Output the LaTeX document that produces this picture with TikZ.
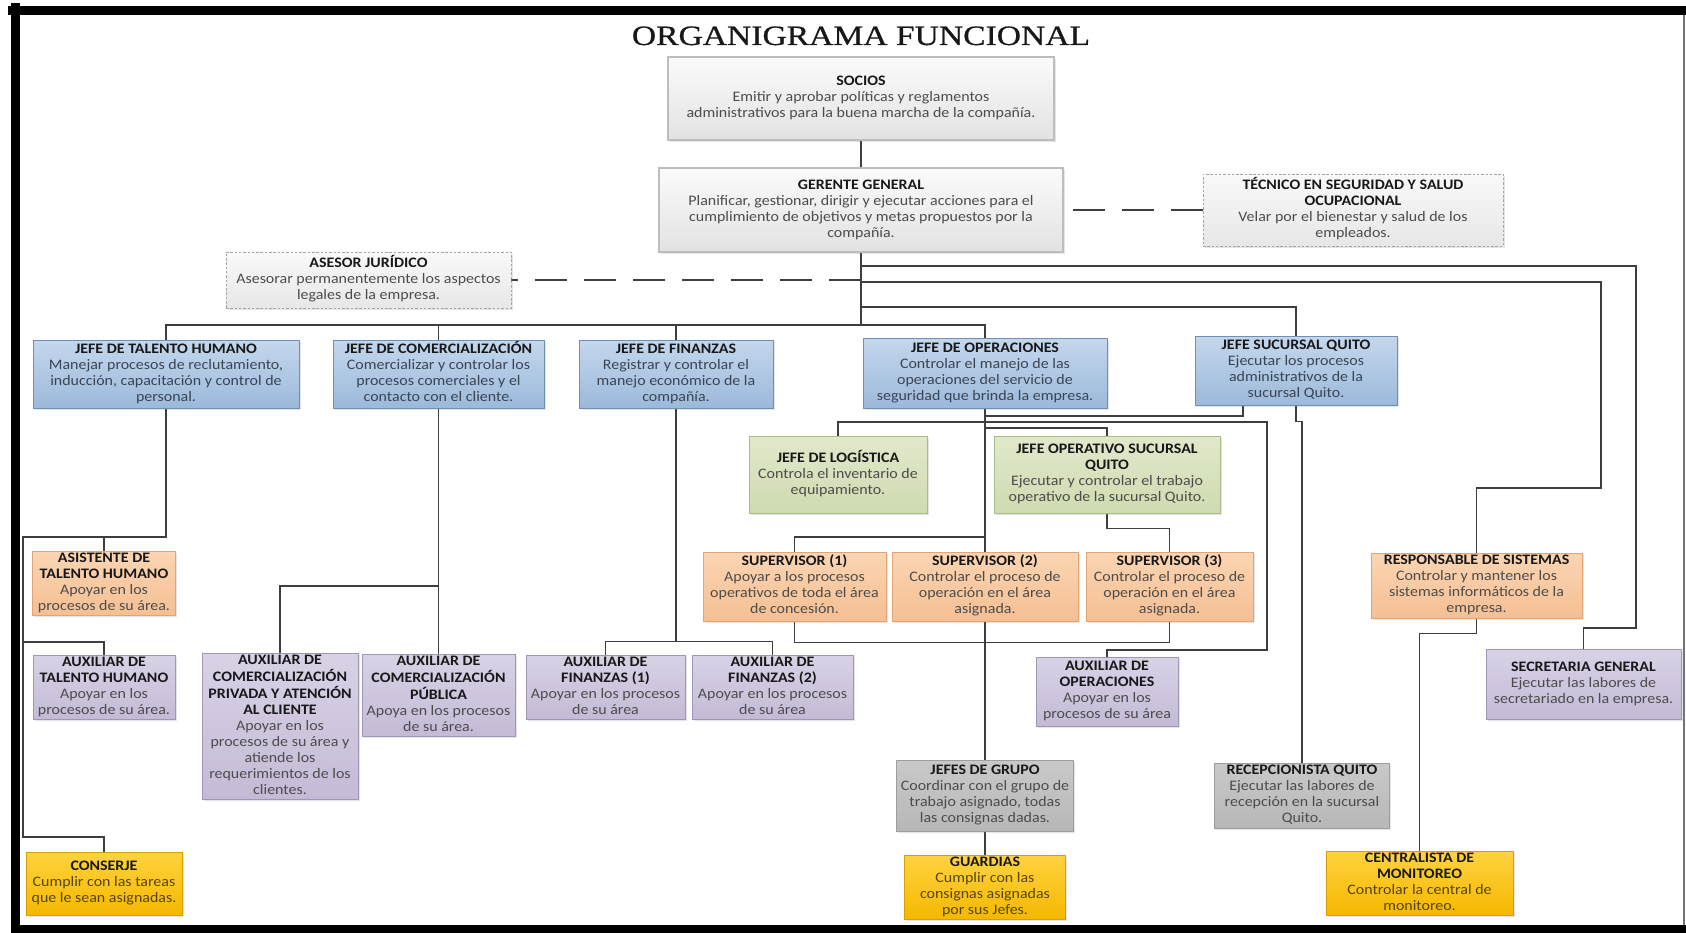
\documentclass[tikz,border=0pt]{standalone}
\usepackage{fontspec}
\setmainfont{Carlito}
\newfontfamily\titleserif[FakeBold=0.6]{Liberation Serif}
\usepackage{graphicx}
\usetikzlibrary{backgrounds,shadows}

% line and text colours
\definecolor{connclr}{HTML}{3E3E3E}
\definecolor{headcol}{HTML}{181818}
\definecolor{desc}{HTML}{4C4C4C}
\definecolor{descblue}{HTML}{3A4554}
\definecolor{descyellow}{HTML}{584500}
% box fills and borders
\definecolor{maintop}{HTML}{FBFBFB}
\definecolor{mainbot}{HTML}{E2E2E2}
\definecolor{mainline}{HTML}{BDBDBD}
\definecolor{stafftop}{HTML}{F9F9F9}
\definecolor{staffbot}{HTML}{E7E7E7}
\definecolor{staffline}{HTML}{A5A5A5}
\definecolor{bluetop}{HTML}{C4D7ED}
\definecolor{bluebot}{HTML}{9CB9DA}
\definecolor{blueline}{HTML}{6F8FB5}
\definecolor{greentop}{HTML}{E0E9CB}
\definecolor{greenbot}{HTML}{CFDBB1}
\definecolor{greenline}{HTML}{AABB8A}
\definecolor{orangetop}{HTML}{FBD5B3}
\definecolor{orangebot}{HTML}{F5BF93}
\definecolor{orangeline}{HTML}{E0A577}
\definecolor{purpletop}{HTML}{D9D2E6}
\definecolor{purplebot}{HTML}{C4BAD6}
\definecolor{purpleline}{HTML}{A096BA}
\definecolor{greytop}{HTML}{C9C9C9}
\definecolor{greybot}{HTML}{B7B7B7}
\definecolor{greyline}{HTML}{9E9E9E}
\definecolor{goldtop}{HTML}{FFD23F}
\definecolor{goldbot}{HTML}{F4B800}
\definecolor{goldline}{HTML}{D6A000}

% centred, slightly widened text block for each box
\newcommand{\orgtext}[1]{\scalebox{1.1}[1]{\begin{tabular}{@{}c@{}}#1\end{tabular}}}
\newcommand{\orghead}[1]{\textcolor{headcol}{\bfseries #1}}

\tikzset{
  orgbox/.style={draw, line width=0.9pt, inner sep=0pt, text=desc,
    font=\fontsize{14.5}{16}\selectfont,
    drop shadow={shadow xshift=1.6pt, shadow yshift=-1.6pt, opacity=0.2}},
  boxsize/.style 2 args={minimum width=#1pt, minimum height=#2pt},
  mainbox/.style={orgbox, draw=mainline, line width=1.8pt, top color=maintop, bottom color=mainbot},
  staffbox/.style={orgbox, draw=staffline, line width=0.8pt, dash pattern=on 2.5pt off 1.8pt, top color=stafftop, bottom color=staffbot},
  bluebox/.style={orgbox, draw=blueline, top color=bluetop, bottom color=bluebot, text=descblue},
  greenbox/.style={orgbox, draw=greenline, top color=greentop, bottom color=greenbot},
  orangebox/.style={orgbox, draw=orangeline, top color=orangetop, bottom color=orangebot},
  purplebox/.style={orgbox, draw=purpleline, top color=purpletop, bottom color=purplebot},
  greybox/.style={orgbox, draw=greyline, top color=greytop, bottom color=greybot},
  goldbox/.style={orgbox, draw=goldline, top color=goldtop, bottom color=goldbot, text=descyellow},
  orglink/.style={draw=connclr, line width=1.7pt},
  dashlink/.style={draw=connclr, line width=1.6pt, dash pattern=on 32pt off 17pt}
}

\begin{document}
\begin{tikzpicture}[x=1pt,y=-1pt]

\useasboundingbox (0,0) rectangle (1686,933);
\begin{scope}[on background layer]
  \fill[white] (0,0) rectangle (1686,933);
\end{scope}

% page frame
\fill[black] (10.5,3) rectangle (20,933);
\fill[black] (7.5,6.5) rectangle (1686,15);
\fill[black] (10.5,925) rectangle (1686,933);
\draw[black!55, line width=1.2pt] (1684,15) -- (1684,925);

% title
\node[anchor=base, text=headcol] (title) at (861,45)
  {\scalebox{1.2}[1]{\titleserif\fontsize{28}{30}\selectfont ORGANIGRAMA FUNCIONAL}};

% top management and staff
\node[mainbox, boxsize={386}{83}] (socios) at (861,98.5) {\orgtext{\orghead{SOCIOS}\\Emitir y aprobar políticas y reglamentos\\administrativos para la buena marcha de la compañía.}};
\node[mainbox, boxsize={404}{84}] (gerente) at (861,210) {\orgtext{\orghead{GERENTE GENERAL}\\Planificar, gestionar, dirigir y ejecutar acciones para el\\cumplimiento de objetivos y metas propuestos por la\\compañía.}};
\node[staffbox, boxsize={300}{72}] (tecnico) at (1353,210) {\orgtext{\orghead{TÉCNICO EN SEGURIDAD Y SALUD}\\\orghead{OCUPACIONAL}\\Velar por el bienestar y salud de los\\empleados.}};
\node[staffbox, boxsize={285}{56}] (asesor) at (368.5,280) {\orgtext{\orghead{ASESOR JURÍDICO}\\Asesorar permanentemente los aspectos\\legales de la empresa.}};

% department heads
\node[bluebox, boxsize={266}{68}] (talento) at (166,374) {\orgtext{\orghead{JEFE DE TALENTO HUMANO}\\Manejar procesos de reclutamiento,\\inducción, capacitación y control de\\personal.}};
\node[bluebox, boxsize={211}{68}] (comercial) at (438.5,374) {\orgtext{\orghead{JEFE DE COMERCIALIZACIÓN}\\Comercializar y controlar los\\procesos comerciales y el\\contacto con el cliente.}};
\node[bluebox, boxsize={194}{68}] (finanzas) at (676,374) {\orgtext{\orghead{JEFE DE FINANZAS}\\Registrar y controlar el\\manejo económico de la\\compañía.}};
\node[bluebox, boxsize={244}{70}] (operaciones) at (985,373) {\orgtext{\orghead{JEFE DE OPERACIONES}\\Controlar el manejo de las\\operaciones del servicio de\\seguridad que brinda la empresa.}};
\node[bluebox, boxsize={202}{69}] (sucursal) at (1296,370.5) {\orgtext{\orghead{JEFE SUCURSAL QUITO}\\Ejecutar los procesos\\administrativos de la\\sucursal Quito.}};

% operations
\node[greenbox, boxsize={178}{77}] (logistica) at (838,474.5) {\orgtext{\orghead{JEFE DE LOGÍSTICA}\\Controla el inventario de\\equipamiento.}};
\node[greenbox, boxsize={226}{77}] (operativo) at (1107,474.5) {\orgtext{\orghead{JEFE OPERATIVO SUCURSAL}\\\orghead{QUITO}\\Ejecutar y controlar el trabajo\\operativo de la sucursal Quito.}};
\node[orangebox, boxsize={183}{69}] (sup1) at (794.5,586.5) {\orgtext{\orghead{SUPERVISOR (1)}\\Apoyar a los procesos\\operativos de toda el área\\de concesión.}};
\node[orangebox, boxsize={186}{69}] (sup2) at (985,586.5) {\orgtext{\orghead{SUPERVISOR (2)}\\Controlar el proceso de\\operación en el área\\asignada.}};
\node[orangebox, boxsize={167}{69}] (sup3) at (1169.5,586.5) {\orgtext{\orghead{SUPERVISOR (3)}\\Controlar el proceso de\\operación en el área\\asignada.}};
\node[purplebox, boxsize={142}{69}] (auxop) at (1107,691.5) {\orgtext{\orghead{AUXILIAR DE}\\\orghead{OPERACIONES}\\Apoyar en los\\procesos de su área}};
\node[greybox, boxsize={177}{71}] (grupo) at (985,795.5) {\orgtext{\orghead{JEFES DE GRUPO}\\Coordinar con el grupo de\\trabajo asignado, todas\\las consignas dadas.}};
\node[goldbox, boxsize={161}{61}] (guardias) at (985,887.5) {\orgtext{\orghead{GUARDIAS}\\Cumplir con las\\consignas asignadas\\por sus Jefes.}};
\node[greybox, boxsize={175}{65}] (recep) at (1302,795.5) {\orgtext{\orghead{RECEPCIONISTA QUITO}\\Ejecutar las labores de\\recepción en la sucursal\\Quito.}};

% human resources
\node[orangebox, boxsize={143}{63}] (asistente) at (104,583.5) {\orgtext{\orghead{ASISTENTE DE}\\\orghead{TALENTO HUMANO}\\Apoyar en los\\procesos de su área.}};
\node[purplebox, boxsize={142}{64}] (auxtal) at (104,687) {\orgtext{\orghead{AUXILIAR DE}\\\orghead{TALENTO HUMANO}\\Apoyar en los\\procesos de su área.}};
\node[goldbox, boxsize={156}{63}] (conserje) at (104,883.5) {\orgtext{\orghead{CONSERJE}\\Cumplir con las tareas\\que le sean asignadas.}};

% sales and finance
\node[purplebox, boxsize={156}{142}] (auxpriv) at (280,726) {\orgtext{\orghead{AUXILIAR DE}\\\orghead{COMERCIALIZACIÓN}\\\orghead{PRIVADA Y ATENCIÓN}\\\orghead{AL CLIENTE}\\Apoyar en los\\procesos de su área y\\atiende los\\requerimientos de los\\clientes.}};
\node[purplebox, boxsize={153}{81}] (auxpub) at (438.5,695.5) {\orgtext{\orghead{AUXILIAR DE}\\\orghead{COMERCIALIZACIÓN}\\\orghead{PÚBLICA}\\Apoya en los procesos\\de su área.}};
\node[purplebox, boxsize={159}{64}] (auxfinA) at (605.5,687) {\orgtext{\orghead{AUXILIAR DE}\\\orghead{FINANZAS (1)}\\Apoyar en los procesos\\de su área}};
\node[purplebox, boxsize={161}{64}] (auxfinB) at (772.5,687) {\orgtext{\orghead{AUXILIAR DE}\\\orghead{FINANZAS (2)}\\Apoyar en los procesos\\de su área}};

% support staff on the right
\node[orangebox, boxsize={211}{65}] (responsable) at (1476.5,585.5) {\orgtext{\orghead{RESPONSABLE DE SISTEMAS}\\Controlar y mantener los\\sistemas informáticos de la\\empresa.}};
\node[goldbox, boxsize={187}{63}] (centralista) at (1419.5,883.5) {\orgtext{\orghead{CENTRALISTA DE}\\\orghead{MONITOREO}\\Controlar la central de\\monitoreo.}};
\node[purplebox, boxsize={195}{70}] (secretaria) at (1583.5,684) {\orgtext{\orghead{SECRETARIA GENERAL}\\Ejecutar las labores de\\secretariado en la empresa.}};

% connectors
\begin{scope}[on background layer]
  \coordinate (jmain) at (861,325);
  \coordinate (tapsec) at (861,266);
  \coordinate (tapres) at (861,282);
  \coordinate (tapsuc) at (861,307);
  \coordinate (jtal) at (166,537);
  \coordinate (jcom) at (438.5,586);
  \coordinate (jfin) at (676,642);

  \draw[orglink] (socios.south) -- (gerente.north);
  \draw[orglink] (gerente.south) -- (jmain);
  \draw[orglink] (talento.north) |- (jmain) -| (operaciones.north);
  \draw[orglink] (comercial.north) -- (comercial.north |- jmain);
  \draw[orglink] (finanzas.north) -- (finanzas.north |- jmain);

  \draw[orglink] (tapsec) -- (1636,266) -- (1636,628) -| (secretaria.north);
  \draw[orglink] (tapres) -- (1601,282) -- (1601,488) -| (responsable.north);
  \draw[orglink] (tapsuc) -| (sucursal.north);
  \draw[orglink] (responsable.south) -- ++(0,15) -| (centralista.north);

  \draw[dashlink] (asesor.east -| gerente.south) -- (asesor.east);
  \draw[dashlink] (tecnico.west) -- (gerente.east);

  % human resources branch
  \draw[orglink] (talento.south) -- (jtal) -- (23,537) -- (23,837) -| (conserje.north);
  \draw[orglink] (asistente.north) -- (asistente.north |- jtal);
  \draw[orglink] (23,642) -| (auxtal.north);

  % sales branch
  \draw[orglink] (comercial.south) -- (auxpub.north);
  \draw[orglink] (jcom) -| (auxpriv.north);

  % finance branch
  \draw[orglink] (finanzas.south) -- (jfin);
  \draw[orglink] (auxfinA.north) -- ++(0,-13) -| (auxfinB.north);

  % operations branch
  \draw[orglink] (operaciones.south) -- (grupo.north);
  \draw[orglink] (grupo.south) -- (guardias.north);
  \draw[orglink] (985,416) -- (1243,416) -- (sucursal.south -| 1243,0);
  \draw[orglink] (sucursal.south) -- ++(0,16) -| (recep.north);
  \draw[orglink] (logistica.north) |- (1267,422) -- (1267,650) -| (auxop.north);
  \draw[orglink] (985,428) -| (operativo.north);
  \draw[orglink] (operativo.south) -- ++(0,15) -| (sup3.north);
  \draw[orglink] (985,537) -| (sup1.north);
  \draw[orglink] (sup1.south) -- ++(0,21) -| (sup3.south);
\end{scope}
\end{tikzpicture}
\end{document}
